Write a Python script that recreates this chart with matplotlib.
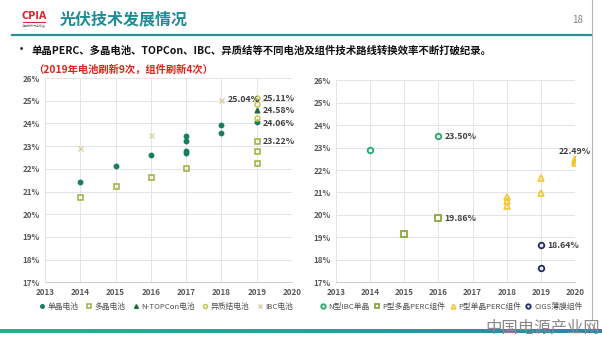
import matplotlib
matplotlib.use("Agg")
import matplotlib.pyplot as plt
import numpy as np
from matplotlib.lines import Line2D
from matplotlib.colors import LinearSegmentedColormap

plt.rcParams['font.family'] = ['Noto Sans CJK SC', 'DejaVu Sans']

# ---------------- data ----------------
years = [2013, 2014, 2015, 2016, 2017, 2018, 2019, 2020]
y_ticks = [17, 18, 19, 20, 21, 22, 23, 24, 25, 26]

# left chart (cells)
mono_x = [2014, 2015, 2016, 2017, 2017, 2017, 2017, 2018, 2018, 2019]
mono_y = [21.40, 22.12, 22.61, 23.43, 23.24, 22.77, 22.71, 23.93, 23.58, 24.06]
poly_x = [2014, 2015, 2016, 2017, 2019, 2019, 2019]
poly_y = [20.77, 21.24, 21.64, 22.03, 23.22, 22.80, 22.27]
topcon_x = [2019]
topcon_y = [24.58]
hj_x = [2019, 2019, 2019]
hj_y = [25.11, 24.85, 24.22]
ibc_x = [2014, 2016, 2018]
ibc_y = [22.92, 23.48, 25.04]

# right chart (modules)
nibc_x = [2014, 2016]
nibc_y = [22.90, 23.50]
ppoly_x = [2015, 2016]
ppoly_y = [19.14, 19.86]
pmono_x = [2018, 2018, 2018, 2019, 2019, 2020, 2020, 2020]
pmono_y = [20.81, 20.63, 20.40, 21.63, 20.97, 22.49, 22.39, 22.30]
cigs_x = [2019, 2019]
cigs_y = [18.64, 17.62]

left_labels = ["单晶电池", "多晶电池", "N-TOPCon电池", "异质结电池", "IBC电池"]
right_labels = ["N型IBC单晶", "P型多晶PERC组件", "P型单晶PERC组件", "CIGS薄膜组件"]

title = "光伏技术发展情况"
bullet = "单晶PERC、多晶电池、TOPCon、IBC、异质结等不同电池及组件技术路线转换效率不断打破纪录。"
subnote = "（2019年电池刷新9次，组件刷新4次）"
watermark = "中国电源产业网"

# ---------------- figure ----------------
W, H = 602, 339
fig = plt.figure(figsize=(W / 100, H / 100), dpi=100)
fig.patch.set_facecolor('white')

def fx(px):
    return px / W

def fy(py):
    return 1 - py / H

# header
fig.text(fx(34), fy(16), "CPIA", color='#d7282f', fontsize=7, fontweight='bold',
         ha='center', va='center', family=['DejaVu Sans'])
fig.text(fx(34), fy(25), "中国光伏行业协会", color='#777777', fontsize=2.2,
         ha='center', va='center')
fig.add_artist(Line2D([fx(23), fx(45)], [fy(22), fy(22)], color='#d7282f', lw=0.8))
fig.text(fx(60), fy(19), title, color='#1d8c95', fontsize=11.5, fontweight='bold',
         ha='left', va='center')
fig.text(fx(578), fy(20), "18", color='#808080', fontsize=7, ha='center', va='center')
fig.add_artist(Line2D([fx(12), fx(592)], [fy(34.5), fy(34.5)], color='#2a8f9a', lw=1.6))
fig.add_artist(Line2D([fx(592), fx(592)], [fy(0), fy(320)], color='#b8b8b8', lw=0.8))

fig.text(fx(21), fy(50), "•", color='#222222', fontsize=8, fontweight='bold',
         ha='center', va='center')
fig.text(fx(32), fy(50), bullet, color='#111111', fontsize=7.5, fontweight='bold',
         ha='left', va='center')
fig.text(fx(33), fy(70), subnote, color='#e2231a', fontsize=7.4, fontweight='bold',
         ha='left', va='center')

# bottom gradient bar
bar_ax = fig.add_axes([0, fy(333), 1, (333 - 329) / H])
grad = np.linspace(0, 1, 256).reshape(1, -1)
cmap = LinearSegmentedColormap.from_list('g', ['#1fb58a', '#19a89a', '#2a86b0'])
bar_ax.imshow(grad, aspect='auto', cmap=cmap)
bar_ax.axis('off')

fig.text(fx(543), fy(328), watermark, color='#8a8a8a', fontsize=11.8,
         ha='center', va='center', zorder=10)

# ---------------- axes ----------------
def style(ax):
    ax.set_xlim(2013, 2020)
    ax.set_ylim(17, 26)
    ax.set_xticks(years)
    ax.set_yticks(y_ticks)
    ax.set_yticklabels([f"{t}%" for t in y_ticks])
    ax.grid(True, color='#e4e4e4', lw=0.7)
    ax.set_axisbelow(True)
    for s in ['top', 'right', 'left']:
        ax.spines[s].set_visible(False)
    ax.spines['bottom'].set_color('#d0d0d0')
    ax.tick_params(length=0, labelsize=5.8, colors='#595959', pad=4)
    for lab in ax.get_xticklabels() + ax.get_yticklabels():
        lab.set_fontweight('bold')
    ax.set_facecolor('white')

axL = fig.add_axes([fx(45), fy(282.3), fx(292) - fx(45), (282.3 - 78.1) / H])
axR = fig.add_axes([fx(336), fy(282.3), fx(575) - fx(336), (282.3 - 80.2) / H])
style(axL)
style(axR)

c_mono, c_poly, c_top, c_hj, c_ibc = '#17805a', '#9cb03a', '#1d6b3f', '#c3c94a', '#d6cfa6'
c_nibc, c_ppoly, c_pmono, c_cigs = '#25a86e', '#8aa83a', '#f2c630', '#1f2a6b'

axL.plot(mono_x, mono_y, 'o', ms=3.2, color=c_mono, mec=c_mono, ls='none', label=left_labels[0])
axL.plot(poly_x, poly_y, 's', ms=3.6, mfc='none', mec=c_poly, mew=1.1, ls='none', label=left_labels[1])
axL.plot(topcon_x, topcon_y, '^', ms=3.4, color=c_top, ls='none', label=left_labels[2])
axL.plot(hj_x, hj_y, 'o', ms=3.6, mfc='none', mec=c_hj, mew=1.1, ls='none', label=left_labels[3])
axL.plot(ibc_x, ibc_y, 'x', ms=3.6, color=c_ibc, mew=1.0, ls='none', label=left_labels[4])

axR.plot(nibc_x, nibc_y, 'o', ms=4.0, mfc='none', mec=c_nibc, mew=1.3, ls='none', label=right_labels[0])
axR.plot(ppoly_x, ppoly_y, 's', ms=4.0, mfc='none', mec=c_ppoly, mew=1.3, ls='none', label=right_labels[1])
axR.plot(pmono_x, pmono_y, '^', ms=4.2, mfc='none', mec=c_pmono, mew=1.2, ls='none', label=right_labels[2])
axR.plot(cigs_x, cigs_y, 'o', ms=4.0, mfc='none', mec=c_cigs, mew=1.3, ls='none', label=right_labels[3])

ann_kw = dict(fontsize=6.3, fontweight='bold', color='#404040', va='center', ha='left',
              textcoords='offset points')

def label(ax, x, y, dx=4.5, dy=0, **kw):
    d = dict(ann_kw)
    d.update(kw)
    ax.annotate(f"{y:.2f}%", (x, y), xytext=(dx, dy), **d)

label(axL, ibc_x[2], ibc_y[2])
label(axL, hj_x[0], hj_y[0])
label(axL, topcon_x[0], topcon_y[0])
label(axL, mono_x[-1], mono_y[-1], dy=-1)
label(axL, poly_x[4], poly_y[4])

label(axR, nibc_x[1], nibc_y[1])
label(axR, ppoly_x[1], ppoly_y[1])
label(axR, cigs_x[0], cigs_y[0])
label(axR, pmono_x[5], pmono_y[5], dx=0, dy=2, ha='center', va='bottom')

leg_kw = dict(loc='center', frameon=False, fontsize=5.6, handletextpad=0.35,
              handlelength=0.8, borderaxespad=0, markerscale=0.8)
legL = fig.legend(*axL.get_legend_handles_labels(), bbox_to_anchor=(fx(166), fy(307)),
                  ncol=5, columnspacing=0.9, **leg_kw)
legR = fig.legend(*axR.get_legend_handles_labels(), bbox_to_anchor=(fx(451), fy(307)),
                  ncol=4, columnspacing=0.5, **leg_kw)
for leg in (legL, legR):
    for t in leg.get_texts():
        t.set_color('#505050')

fig.savefig("out.png", dpi=100, facecolor='white')
